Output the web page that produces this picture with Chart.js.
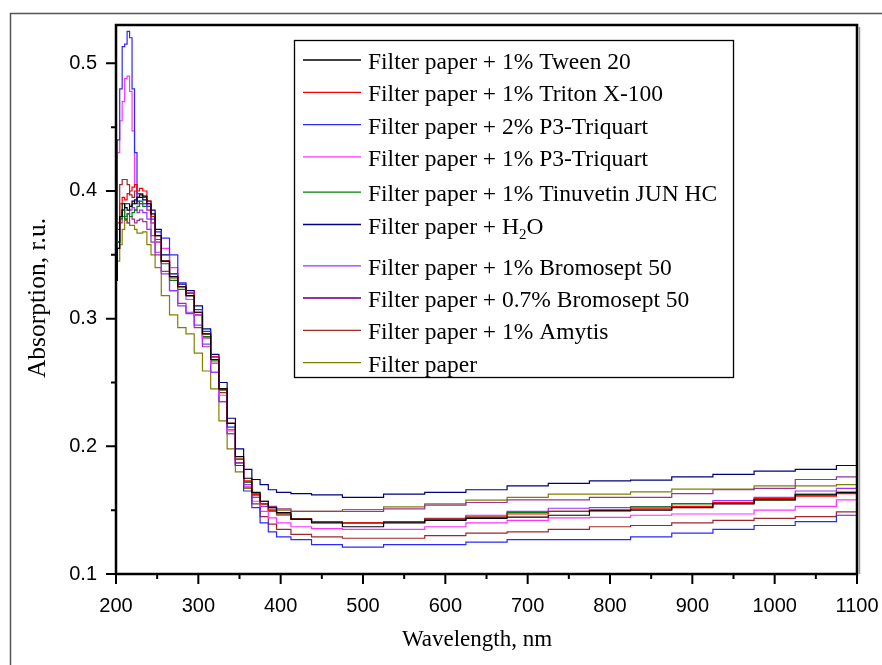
<!DOCTYPE html>
<html>
<head>
<meta charset="utf-8">
<title>Absorption spectra</title>
<script src="https://cdn.jsdelivr.net/npm/chart.js@4.4.1/dist/chart.umd.min.js"></script>
<style>
  html, body { margin: 0; padding: 0; background: #fff; }
  #wrap { width: 882px; height: 665px; position: relative; }
</style>
</head>
<body>
<div id="wrap"><canvas id="absChart" width="882" height="665"></canvas></div>
<script>
// Wavelength grid, nm
const wavelengths = [200, 203, 206, 209, 212, 215, 218, 221, 224, 227, 230, 235, 240, 245, 250,
  260, 270, 280, 290, 300, 310, 320, 330, 340, 350, 360, 370, 380, 390, 400,
  425, 450, 500, 550, 600, 650, 700, 750, 800, 850, 900, 950, 1000, 1050, 1100];

// Absorption, r.u.
const tween20 = [0.330, 0.355, 0.380, 0.390, 0.387, 0.385, 0.388, 0.392, 0.390, 0.395, 0.397, 0.396, 0.390, 0.382, 0.365,
  0.345, 0.333, 0.325, 0.318, 0.305, 0.288, 0.268, 0.245, 0.218, 0.192, 0.175, 0.164, 0.157, 0.152, 0.148,
  0.143, 0.140, 0.137, 0.140, 0.142, 0.1435, 0.1445, 0.146, 0.1495, 0.150, 0.152, 0.155, 0.158, 0.162, 0.164];
const tritonX100 = [0.330, 0.370, 0.390, 0.395, 0.393, 0.398, 0.400, 0.403, 0.405, 0.400, 0.402, 0.400, 0.392, 0.380, 0.365,
  0.345, 0.333, 0.325, 0.320, 0.305, 0.288, 0.270, 0.245, 0.218, 0.190, 0.173, 0.162, 0.155, 0.150, 0.147,
  0.143, 0.141, 0.140, 0.141, 0.143, 0.1445, 0.147, 0.149, 0.150, 0.151, 0.153, 0.156, 0.159, 0.161, 0.163];
const triquart2 = [0.330, 0.440, 0.480, 0.513, 0.515, 0.525, 0.520, 0.480, 0.430, 0.392, 0.390, 0.390, 0.388, 0.378, 0.368,
  0.363, 0.350, 0.328, 0.320, 0.307, 0.290, 0.270, 0.245, 0.215, 0.185, 0.165, 0.152, 0.140, 0.133, 0.129,
  0.127, 0.123, 0.121, 0.123, 0.123, 0.125, 0.127, 0.127, 0.127, 0.129, 0.132, 0.135, 0.138, 0.141, 0.146];
const triquart1 = [0.330, 0.430, 0.455, 0.470, 0.488, 0.490, 0.478, 0.447, 0.405, 0.390, 0.390, 0.390, 0.385, 0.375, 0.360,
  0.355, 0.340, 0.325, 0.315, 0.303, 0.285, 0.265, 0.240, 0.212, 0.185, 0.168, 0.157, 0.149, 0.144, 0.140,
  0.137, 0.1355, 0.135, 0.135, 0.137, 0.140, 0.142, 0.144, 0.1443, 0.146, 0.147, 0.147, 0.150, 0.153, 0.158];
const tinuvetin = [0.330, 0.360, 0.378, 0.385, 0.378, 0.382, 0.380, 0.383, 0.385, 0.388, 0.392, 0.388, 0.385, 0.375, 0.360,
  0.343, 0.330, 0.323, 0.318, 0.303, 0.286, 0.267, 0.244, 0.218, 0.190, 0.172, 0.162, 0.155, 0.150, 0.147,
  0.143, 0.141, 0.140, 0.141, 0.143, 0.1445, 0.148, 0.149, 0.150, 0.1526, 0.155, 0.1555, 0.158, 0.1625, 0.164];
const water = [0.330, 0.360, 0.380, 0.385, 0.390, 0.390, 0.388, 0.390, 0.393, 0.395, 0.395, 0.393, 0.392, 0.385, 0.370,
  0.350, 0.335, 0.327, 0.322, 0.310, 0.292, 0.272, 0.250, 0.222, 0.198, 0.182, 0.174, 0.170, 0.166, 0.164,
  0.163, 0.162, 0.160, 0.1625, 0.164, 0.166, 0.169, 0.171, 0.173, 0.1735, 0.176, 0.178, 0.1805, 0.182, 0.185];
const bromosept1 = [0.330, 0.360, 0.380, 0.385, 0.380, 0.382, 0.385, 0.387, 0.385, 0.383, 0.385, 0.383, 0.378, 0.365, 0.352,
  0.335, 0.322, 0.310, 0.305, 0.295, 0.280, 0.258, 0.235, 0.210, 0.185, 0.170, 0.160, 0.153, 0.149, 0.146,
  0.143, 0.141, 0.140, 0.141, 0.1435, 0.146, 0.149, 0.1515, 0.152, 0.1526, 0.1552, 0.1575, 0.160, 0.165, 0.167];
const bromosept07 = [0.330, 0.355, 0.375, 0.380, 0.378, 0.375, 0.380, 0.378, 0.375, 0.377, 0.378, 0.376, 0.370, 0.360, 0.350,
  0.337, 0.322, 0.312, 0.304, 0.293, 0.278, 0.258, 0.235, 0.210, 0.187, 0.172, 0.163, 0.157, 0.153, 0.151,
  0.149, 0.149, 0.149, 0.151, 0.154, 0.156, 0.158, 0.158, 0.160, 0.160, 0.163, 0.166, 0.167, 0.174, 0.176];
const amytis = [0.330, 0.375, 0.405, 0.409, 0.409, 0.405, 0.397, 0.395, 0.400, 0.398, 0.398, 0.395, 0.390, 0.380, 0.362,
  0.345, 0.332, 0.325, 0.318, 0.303, 0.285, 0.265, 0.242, 0.213, 0.187, 0.168, 0.155, 0.145, 0.139, 0.135,
  0.131, 0.129, 0.128, 0.128, 0.130, 0.132, 0.133, 0.135, 0.137, 0.138, 0.140, 0.142, 0.1435, 0.145, 0.1487];
const filterPaper = [0.330, 0.345, 0.358, 0.370, 0.377, 0.375, 0.373, 0.373, 0.370, 0.367, 0.367, 0.368, 0.358, 0.350, 0.340,
  0.318, 0.303, 0.293, 0.288, 0.273, 0.259, 0.245, 0.220, 0.198, 0.180, 0.167, 0.160, 0.155, 0.152, 0.150,
  0.149, 0.149, 0.1505, 0.1526, 0.155, 0.1578, 0.160, 0.1625, 0.1625, 0.1643, 0.1665, 0.1665, 0.169, 0.169, 0.170];

const seriesLabels = [
  'Filter paper + 1% Tween 20',
  'Filter paper + 1% Triton X-100',
  'Filter paper + 2% P3-Triquart',
  'Filter paper + 1% P3-Triquart',
  'Filter paper + 1% Tinuvetin JUN HC',
  'Filter paper + H\u2082O',
  'Filter paper + 1% Bromosept 50',
  'Filter paper + 0.7% Bromosept 50',
  'Filter paper + 1% Amytis',
  'Filter paper'
];
const seriesValues = [tween20, tritonX100, triquart2, triquart1, tinuvetin, water, bromosept1, bromosept07, amytis, filterPaper];
const seriesColors = ['#000000', '#ff0000', '#2a2aff', '#ff33ff', '#008000', '#000080', '#9933ff', '#993399', '#a02828', '#808000'];

const xTickValues = [200, 300, 400, 500, 600, 700, 800, 900, 1000, 1100];
const yTickValues = [0.1, 0.2, 0.3, 0.4, 0.5];
const xTitle = 'Wavelength, nm';
const yTitle = 'Absorption, r.u.';

const SERIF = "'Liberation Serif', 'Times New Roman', serif";
const SANS = "'Liberation Sans', Arial, sans-serif";

// legend box inside the plot (drawn by hand, like the original)
const legendBox = {
  id: 'legendBox',
  afterDatasetsDraw(chart) {
    const ctx = chart.ctx;
    const x0 = 294, y0 = 40, w = 439, h = 337;
    ctx.save();
    ctx.fillStyle = '#fff';
    ctx.fillRect(x0, y0, w, h);
    ctx.strokeStyle = '#000';
    ctx.lineWidth = 1.3;
    ctx.strokeRect(x0 + 0.5, y0 + 0.5, w, h);
    let y = 60;
    chart.data.datasets.forEach((ds, i) => {
      ctx.strokeStyle = ds.borderColor;
      ctx.lineWidth = i === 7 ? 2 : 1.3;
      ctx.beginPath();
      ctx.moveTo(303, y);
      ctx.lineTo(361, y);
      ctx.stroke();
      // text, with subscript for H2O
      ctx.fillStyle = '#000';
      ctx.textBaseline = 'alphabetic';
      ctx.textAlign = 'left';
      let tx = 368;
      const parts = ds.label.split('\u2082');
      parts.forEach((p, k) => {
        ctx.font = '23.5px ' + SERIF;
        ctx.fillText(p, tx, y + 9);
        tx += ctx.measureText(p).width;
        if (k < parts.length - 1) {
          ctx.font = '15px ' + SERIF;
          ctx.fillText('2', tx, y + 14);
          tx += ctx.measureText('2').width;
        }
      });
      y += 32.3 + (i === 3 ? 3 : 0) + (i === 5 ? 9 : 0);
    });
    ctx.restore();
  }
};

// axis frame, major/minor tick marks, axis titles and the outer figure frame
const frameTicks = {
  id: 'frameTicks',
  afterDraw(chart) {
    const ctx = chart.ctx;
    const a = chart.chartArea;
    const xs = chart.scales.x, ys = chart.scales.y;
    ctx.save();
    // outer frame (cut by the picture edge)
    ctx.strokeStyle = '#555';
    ctx.lineWidth = 1.5;
    ctx.beginPath();
    ctx.moveTo(10.5, 665);
    ctx.lineTo(10.5, 13.5);
    ctx.lineTo(882, 13.5);
    ctx.stroke();

    ctx.strokeStyle = '#000';
    ctx.lineWidth = 2;
    ctx.beginPath();
    for (let v = 200; v <= 1100; v += 50) {
      const px = xs.getPixelForValue(v);
      ctx.moveTo(px, a.bottom);
      ctx.lineTo(px, a.bottom + (v % 100 === 0 ? 10 : 5));
    }
    for (let k = 0; k <= 8; k++) {
      const v = 0.1 + k * 0.05;
      const py = ys.getPixelForValue(v);
      ctx.moveTo(a.left, py);
      ctx.lineTo(a.left - (k % 2 === 0 ? 10 : 5), py);
    }
    ctx.stroke();

    // shadow on the right edge
    ctx.strokeStyle = '#999';
    ctx.lineWidth = 1.5;
    ctx.beginPath();
    ctx.moveTo(a.right + 2.5, a.top + 2);
    ctx.lineTo(a.right + 2.5, a.bottom);
    ctx.stroke();

    ctx.strokeStyle = '#000';
    ctx.lineWidth = 2.5;
    ctx.strokeRect(a.left, a.top, a.right - a.left, a.bottom - a.top);

    // axis titles
    ctx.fillStyle = '#000';
    ctx.textAlign = 'center';
    ctx.textBaseline = 'middle';
    ctx.font = '23px ' + SERIF;
    ctx.fillText(xTitle, 477, 640);
    ctx.translate(38, 298);
    ctx.rotate(-Math.PI / 2);
    ctx.font = '25.5px ' + SERIF;
    ctx.fillText(yTitle, 0, 0);
    ctx.restore();
  }
};

document.addEventListener('DOMContentLoaded', function() {
  const ctx = document.getElementById('absChart').getContext('2d');
  new Chart(ctx, {
    type: 'line',
    data: {
      datasets: seriesValues.map((vals, i) => ({
        label: seriesLabels[i],
        data: wavelengths.map((w, j) => ({ x: w, y: vals[j] })),
        borderColor: seriesColors[i],
        backgroundColor: seriesColors[i],
        borderWidth: 1.2,
        pointRadius: 0,
        stepped: 'middle',
        fill: false
      }))
    },
    options: {
      responsive: false,
      animation: false,
      devicePixelRatio: 1,
      layout: { padding: { top: 25, right: 25, bottom: 0, left: 0 } },
      plugins: {
        legend: { display: false },
        tooltip: { enabled: false }
      },
      scales: {
        x: {
          type: 'linear',
          min: 200,
          max: 1100,
          afterFit: function(scale) {
            scale.height = 91;
            scale.paddingLeft = 0;
            scale.paddingRight = 0;
          },
          afterBuildTicks: function(scale) {
            scale.ticks = xTickValues.map(v => ({ value: v }));
          },
          grid: { display: false, drawTicks: false },
          border: { display: false },
          ticks: {
            padding: 20,
            maxRotation: 0,
            color: '#000',
            font: { family: SANS, size: 20 },
            callback: v => String(v)
          }
        },
        y: {
          type: 'linear',
          min: 0.1,
          max: 0.53,
          afterFit: function(scale) {
            scale.width = 116;
            scale.paddingTop = 0;
            scale.paddingBottom = 0;
          },
          afterBuildTicks: function(scale) {
            scale.ticks = yTickValues.map(v => ({ value: v }));
          },
          grid: { display: false, drawTicks: false },
          border: { display: false },
          ticks: {
            padding: 19,
            color: '#000',
            font: { family: SANS, size: 20 },
            callback: v => v.toFixed(1)
          }
        }
      }
    },
    plugins: [legendBox, frameTicks]
  });
});
</script>
</body>
</html>
